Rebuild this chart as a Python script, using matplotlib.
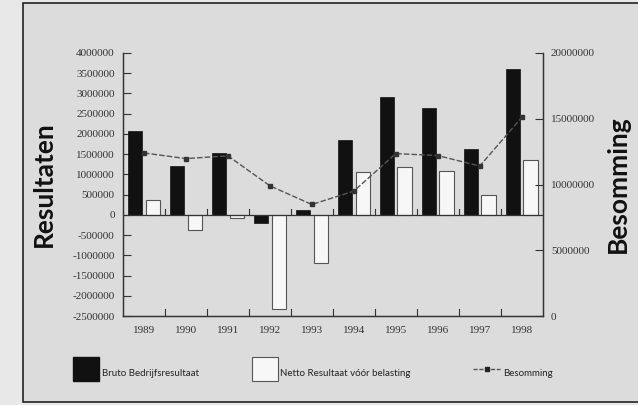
import numpy as np
import matplotlib
matplotlib.use("Agg")
import matplotlib.pyplot as plt
import matplotlib.patches as mpatches
from matplotlib.lines import Line2D

# ── data ─────────────────────────────────────────────────────────
years  = ["1989", "1990", "1991", "1992", "1993", "1994", "1995", "1996", "1997", "1998"]
bruto  = [2060000, 1210000, 1540000, -200000, 125000, 1860000, 2920000, 2630000, 1620000, 3610000]
netto  = [370000, -370000, -80000, -2330000, -1190000, 1060000, 1190000, 1080000, 490000, 1360000]
besomming = [12400000, 11970000, 12180000, 9900000, 8480000, 9500000, 12350000, 12200000, 11400000, 15100000]

left_ticks  = np.arange(-2500000, 4000001, 500000)
right_ticks = np.arange(0, 20000001, 5000000)

BG = "#dcdcdc"
TICK_FONT = dict(family="Liberation Serif", size=8, color="#333333")

fig = plt.figure(figsize=(6.38, 4.05), dpi=100, facecolor="#e8e8e8")
# outer frame (behind the axes)
fig.add_artist(mpatches.Rectangle((23/638, 3/405), 1.0, 399/405, transform=fig.transFigure,
                                  facecolor=BG, edgecolor="#222222", linewidth=1.2, zorder=-5))

ax = fig.add_axes([123/638, 1 - 316/405, (542.7 - 123)/638, (316 - 53)/405])
ax.set_facecolor("none")
x = np.arange(len(years))
w = 0.34
ax.bar(x - 0.21, bruto, w, color="#111111", edgecolor="#111111", linewidth=0.5, zorder=3)
ax.bar(x + 0.21, netto, w, color="#f7f7f7", edgecolor="#555555", linewidth=0.8, zorder=3)
ax.axhline(0, color="#333333", linewidth=0.9, zorder=4)

ax.set_xlim(-0.5, len(years) - 0.5)
ax.set_ylim(-2500000, 4000000)
ax.set_yticks(left_ticks)
ax.set_yticklabels([str(v) for v in left_ticks], **TICK_FONT)
ax.set_xticks(x)
ax.set_xticklabels(years, **TICK_FONT)
ax.tick_params(axis="x", length=0, pad=7)
ax.tick_params(axis="y", direction="in", length=6, width=0.8, color="#333333", pad=6)
# group boundary ticks on the bottom axis and zero line
for b in np.arange(0.5, len(years) - 0.5, 1):
    ax.plot([b, b], [-2500000, -2330000], color="#333333", linewidth=0.8, zorder=4)
    ax.plot([b, b], [0, 150000], color="#333333", linewidth=0.8, zorder=4)
for s in ["left", "bottom", "right"]:
    ax.spines[s].set_color("#333333")
    ax.spines[s].set_linewidth(0.9)
ax.spines["top"].set_visible(False)
ax.set_ylabel("Resultaten", family="Lato", fontweight="bold", fontsize=19, color="#111111",
              labelpad=12)

ax2 = ax.twinx()
ax2.plot(x, besomming, color="#555555", linestyle="--", dashes=(4, 1.5), linewidth=1.0,
         marker="s", markersize=3, markerfacecolor="#333333", markeredgecolor="#333333", zorder=5)
ax2.set_ylim(0, 20000000)
ax2.set_yticks(right_ticks)
ax2.set_yticklabels([str(v) for v in right_ticks], **TICK_FONT)
ax2.tick_params(axis="y", direction="in", length=6, width=0.8, color="#333333", pad=6)
for s in ["left", "bottom", "right"]:
    ax2.spines[s].set_color("#333333")
    ax2.spines[s].set_linewidth(0.9)
ax2.spines["top"].set_visible(False)
ax2.set_ylabel("Besomming", family="Lato", fontweight="bold", fontsize=19, color="#111111",
               labelpad=8)

# legend
leg_font = dict(family="Lato", size=7, color="#222222", va="center")
fig.add_artist(mpatches.Rectangle((73/638, 1 - 381/405), 26/638, 24/405, transform=fig.transFigure,
                                  facecolor="#111111", edgecolor="#111111"))
fig.text(102/638, 1 - 373/405, "Bruto Bedrijfsresultaat", **leg_font)
fig.add_artist(mpatches.Rectangle((252/638, 1 - 381/405), 26/638, 24/405, transform=fig.transFigure,
                                  facecolor="#f7f7f7", edgecolor="#555555", linewidth=0.8))
fig.text(280/638, 1 - 373/405, "Netto Resultaat vóór belasting", **leg_font)
fig.add_artist(Line2D([473/638, 500/638], [1 - 369/405, 1 - 369/405], transform=fig.transFigure,
                      color="#555555", linestyle="--", dashes=(3, 1.2), linewidth=1.0))
fig.add_artist(Line2D([487/638], [1 - 369/405], transform=fig.transFigure, linestyle="none",
                      marker="s", markersize=3.5, markerfacecolor="#222222", markeredgecolor="#222222"))
fig.text(503/638, 1 - 373/405, "Besomming", **leg_font)

fig.savefig("out.png", dpi=100, facecolor=fig.get_facecolor())
